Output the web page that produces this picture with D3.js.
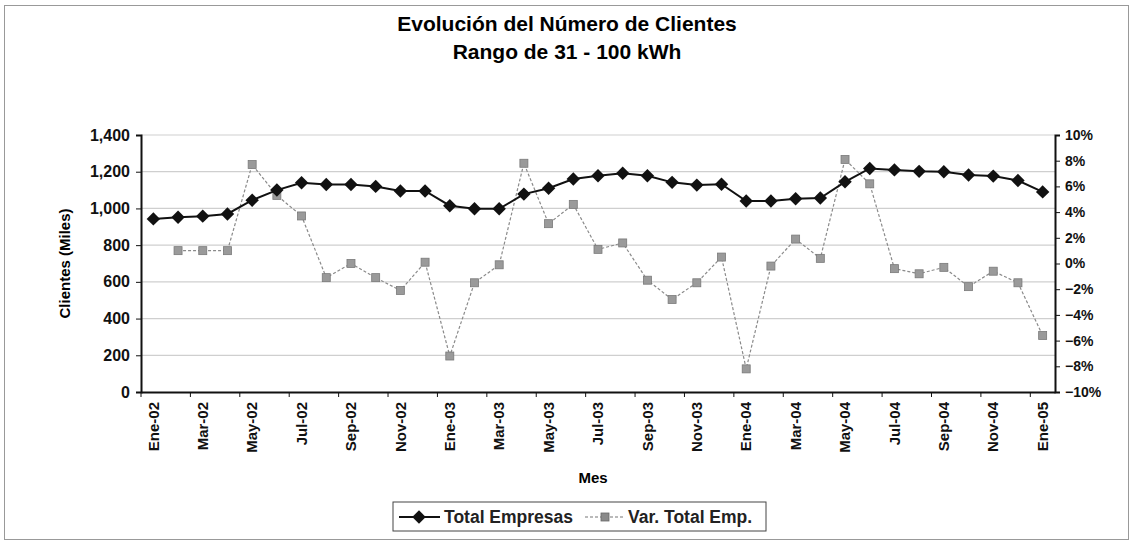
<!DOCTYPE html>
<html>
<head>
<meta charset="utf-8">
<script src="https://cdn.jsdelivr.net/npm/d3@7"></script>
<style>
  body { margin: 0; background: #fff; }
  svg { font-family: Arial, "Liberation Sans", sans-serif; }
  .axis path, .axis line { stroke: #111; }
  .axis text { font-size: 14px; font-weight: bold; fill: #111; }
</style>
</head>
<body>
<div id="chart"></div>
<script>
// Data
const months = ['Ene-02','Feb-02','Mar-02','Abr-02','May-02','Jun-02','Jul-02','Ago-02','Sep-02','Oct-02','Nov-02','Dic-02',
                'Ene-03','Feb-03','Mar-03','Abr-03','May-03','Jun-03','Jul-03','Ago-03','Sep-03','Oct-03','Nov-03','Dic-03',
                'Ene-04','Feb-04','Mar-04','Abr-04','May-04','Jun-04','Jul-04','Ago-04','Sep-04','Oct-04','Nov-04','Dic-04',
                'Ene-05']
const totalEmpresas = [943, 952, 958, 970, 1045, 1100, 1140, 1130, 1130, 1120, 1095, 1095,
                       1015, 998, 998, 1078, 1110, 1160, 1178, 1192, 1178, 1142, 1127, 1132,
                       1040, 1040, 1053, 1057, 1145, 1218, 1210, 1202, 1200, 1182, 1176, 1152,
                       1090]
// first month has no variation
const varTotal = [null, 0.010, 0.010, 0.010, 0.077, 0.053, 0.037, -0.011, 0.000, -0.011, -0.021, 0.001,
                  -0.072, -0.015, -0.001, 0.078, 0.031, 0.046, 0.011, 0.016, -0.013, -0.028, -0.015, 0.005,
                  -0.082, -0.002, 0.019, 0.004, 0.081, 0.062, -0.004, -0.008, -0.003, -0.018, -0.006, -0.015,
                  -0.056]
const leftTicks = [0, 200, 400, 600, 800, 1000, 1200, 1400]
const rightTicks = [-0.10, -0.08, -0.06, -0.04, -0.02, 0, 0.02, 0.04, 0.06, 0.08, 0.10]

const width = 1133, height = 542
const margin = { top: 135, bottom: 150, left: 141, right: 78 }
const ctrWidth = width - margin.left - margin.right
const ctrHeight = height - margin.top - margin.bottom

const svg = d3.select('#chart').append('svg')
    .attr('width', width)
    .attr('height', height)

// outer frame
svg.append('rect')
    .attr('x', 4.5).attr('y', 5.5)
    .attr('width', 1124).attr('height', 534)
    .attr('fill', 'none')
    .attr('stroke', '#999')

// Titles
svg.append('text')
    .attr('x', 567).attr('y', 31)
    .attr('text-anchor', 'middle')
    .style('font-size', '21px').style('font-weight', 'bold')
    .text('Evolución del Número de Clientes')
svg.append('text')
    .attr('x', 567).attr('y', 59)
    .attr('text-anchor', 'middle')
    .style('font-size', '21px').style('font-weight', 'bold')
    .text('Rango de 31 - 100 kWh')

const ctr = svg.append('g')
    .attr('transform', `translate(${margin.left},${margin.top})`)

// Scales
const xScale = d3.scaleBand().domain(months).range([0, ctrWidth])
const xMid = (m) => xScale(m) + xScale.bandwidth() / 2
const yScale = d3.scaleLinear().domain([0, 1400]).range([ctrHeight, 0])
const yRight = d3.scaleLinear().domain([-0.10, 0.10]).range([ctrHeight, 0])

// Gridlines
ctr.append('g')
    .selectAll('line')
    .data(leftTicks.filter(d => d > 0))
    .join('line')
    .attr('x1', 0).attr('x2', ctrWidth)
    .attr('y1', d => yScale(d)).attr('y2', d => yScale(d))
    .attr('stroke', '#cfcfcf')
    .attr('stroke-width', 1.2)

// Axes
const yAxis = d3.axisLeft(yScale).tickValues(leftTicks).tickFormat(d3.format(',')).tickSize(5).tickPadding(6)
const yAxisGroup = ctr.append('g').call(yAxis).classed('axis', true)
yAxisGroup.select('.domain').attr('stroke-width', 2)
yAxisGroup.selectAll('text').style('font-size', '16px')

const yAxisR = d3.axisRight(yRight).tickValues(rightTicks).tickFormat(d3.format('.0%')).tickSize(5).tickPadding(5)
const yAxisRGroup = ctr.append('g').call(yAxisR).classed('axis', true)
    .attr('transform', `translate(${ctrWidth},0)`)
yAxisRGroup.select('.domain').attr('stroke-width', 2)

const xAxis = d3.axisBottom(xScale).tickValues(months.filter((d, i) => i % 2 === 0)).tickSize(0).tickPadding(8)
const xAxisGroup = ctr.append('g').call(xAxis).classed('axis', true)
    .attr('transform', `translate(0,${ctrHeight})`)
xAxisGroup.select('.domain').attr('stroke-width', 2)
xAxisGroup.selectAll('text')
    .attr('transform', 'rotate(-90)')
    .attr('text-anchor', 'end')
    .attr('x', -10).attr('y', 0)
    .attr('dy', '0.35em')
    .style('font-size', '15px')
// tick marks between categories
xAxisGroup.append('g')
    .selectAll('line')
    .data(months.filter((d, i) => i % 2 === 0))
    .join('line')
    .attr('x1', d => xScale(d)).attr('x2', d => xScale(d))
    .attr('y1', 0).attr('y2', 5)
    .attr('stroke', '#111')

// axis titles
ctr.append('text')
    .attr('transform', `translate(${-71},${ctrHeight / 2}) rotate(-90)`)
    .attr('text-anchor', 'middle')
    .style('font-size', '15px').style('font-weight', 'bold')
    .text('Clientes (Miles)')
ctr.append('text')
    .attr('x', ctrWidth / 2 - 5).attr('y', ctrHeight + 91)
    .attr('text-anchor', 'middle')
    .style('font-size', '15px').style('font-weight', 'bold')
    .text('Mes')

// Var. Total Emp. series (right axis)
const varData = months.map((m, i) => ({ m, v: varTotal[i] })).filter(d => d.v !== null)
const varLine = d3.line().x(d => xMid(d.m)).y(d => yRight(d.v))
ctr.append('path')
    .datum(varData)
    .attr('d', varLine)
    .attr('fill', 'none')
    .attr('stroke', '#8a8a8a')
    .attr('stroke-width', 1.2)
    .attr('stroke-dasharray', '3,2')
ctr.append('g')
    .selectAll('rect')
    .data(varData)
    .join('rect')
    .attr('x', d => xMid(d.m) - 4)
    .attr('y', d => yRight(d.v) - 4)
    .attr('width', 8).attr('height', 8)
    .attr('fill', '#9a9a9a')
    .attr('stroke', '#7a7a7a')
    .attr('stroke-width', 0.8)

// Total Empresas series (left axis)
const totData = months.map((m, i) => ({ m, v: totalEmpresas[i] }))
const totLine = d3.line().x(d => xMid(d.m)).y(d => yScale(d.v))
ctr.append('path')
    .datum(totData)
    .attr('d', totLine)
    .attr('fill', 'none')
    .attr('stroke', '#111')
    .attr('stroke-width', 2)
const diamond = d3.symbol().type(d3.symbolDiamond2).size(115)
ctr.append('g')
    .selectAll('path')
    .data(totData)
    .join('path')
    .attr('d', diamond)
    .attr('transform', d => `translate(${xMid(d.m)},${yScale(d.v)})`)
    .attr('fill', '#111')

// Legend
const legend = svg.append('g').attr('transform', 'translate(393,502)')
legend.append('rect')
    .attr('width', 373).attr('height', 29)
    .attr('fill', '#fff')
    .attr('stroke', '#444')
legend.append('line')
    .attr('x1', 6).attr('x2', 47).attr('y1', 15).attr('y2', 15)
    .attr('stroke', '#111').attr('stroke-width', 2)
legend.append('path')
    .attr('d', diamond)
    .attr('transform', 'translate(26,15)')
    .attr('fill', '#111')
legend.append('text')
    .attr('x', 51).attr('y', 21)
    .style('font-size', '17.5px').style('font-weight', 'bold').attr('fill', '#222')
    .text('Total Empresas')
legend.append('line')
    .attr('x1', 192).attr('x2', 232).attr('y1', 15).attr('y2', 15)
    .attr('stroke', '#777').attr('stroke-width', 1.2).attr('stroke-dasharray', '3,2')
legend.append('rect')
    .attr('x', 208).attr('y', 11).attr('width', 8).attr('height', 8)
    .attr('fill', '#8a8a8a').attr('stroke', '#666').attr('stroke-width', 0.8)
legend.append('text')
    .attr('x', 235).attr('y', 21)
    .style('font-size', '17.5px').style('font-weight', 'bold').attr('fill', '#222')
    .text('Var. Total Emp.')
</script>
</body>
</html>
